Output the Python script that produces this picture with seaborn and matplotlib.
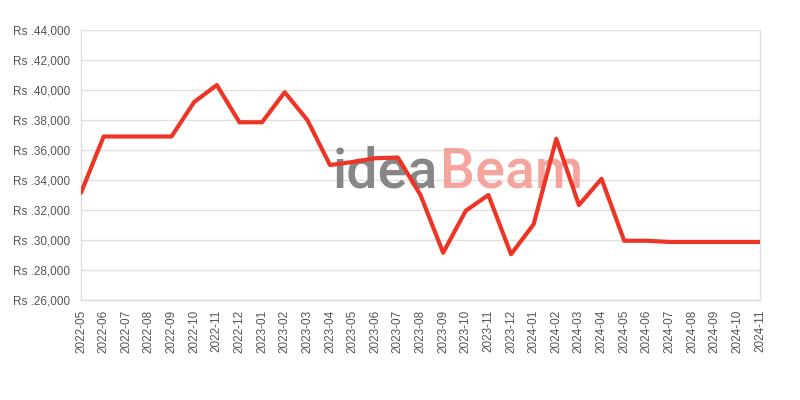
import matplotlib
matplotlib.use("Agg")
import matplotlib.pyplot as plt
import seaborn as sns
import pandas as pd
from matplotlib.ticker import FuncFormatter, MultipleLocator

months = ["2022-05", "2022-06", "2022-07", "2022-08", "2022-09", "2022-10", "2022-11",
          "2022-12", "2023-01", "2023-02", "2023-03", "2023-04", "2023-05", "2023-06",
          "2023-07", "2023-08", "2023-09", "2023-10", "2023-11", "2023-12", "2024-01",
          "2024-02", "2024-03", "2024-04", "2024-05", "2024-06", "2024-07", "2024-08",
          "2024-09", "2024-10", "2024-11"]
prices = [33150, 36900, 36900, 36900, 36900, 39200, 40330,
          37850, 37850, 39850, 38000, 35000, 35200, 35450,
          35500, 33000, 29150, 31950, 33000, 29050, 31050,
          36750, 32330, 34080, 29950, 29950, 29870, 29870,
          29870, 29870, 29870]

df = pd.DataFrame({"month": months, "price": prices})

sns.set_theme(style="white")
plt.rcParams['font.family'] = ['Liberation Sans', 'DejaVu Sans']

fig = plt.figure(figsize=(8, 4), dpi=100)
ax = fig.add_axes([81/800, 1-300/400, (760-81)/800, 270/400])

sns.lineplot(data=df, x="month", y="price", ax=ax, color="#EE3424",
             linewidth=3.0, zorder=3, sort=False)

ax.set_xlim(0, len(months) - 1)
ax.set_ylim(26000, 44000)
ax.yaxis.set_major_locator(MultipleLocator(2000))
ax.yaxis.set_major_formatter(FuncFormatter(lambda v, p: "Rs .{:,.0f}".format(v)))
ax.set_xticks(range(len(months)))
ax.set_xticklabels(months, rotation=90)
ax.tick_params(axis="both", length=0, labelsize=8.5, labelcolor="#555555")
ax.tick_params(axis="y", pad=8)
ax.tick_params(axis="x", pad=7)
ax.set_xlabel("")
ax.set_ylabel("")
ax.grid(axis="y", color="#e0e0e0", linewidth=1)
ax.set_axisbelow(True)
for s in ["left", "bottom", "right"]:
    ax.spines[s].set_color("#dddddd")
    ax.spines[s].set_linewidth(1)
ax.spines["top"].set_visible(False)

# watermark
ax.text(15.78, 33467, "idea", ha="right", va="baseline", fontsize=40,
        family="Roboto", fontweight="medium", color="#7a7a7a", alpha=0.9, zorder=1)
ax.text(15.85, 33467, "Beam", ha="left", va="baseline", fontsize=40,
        family="Roboto", fontweight="medium", color="#f49b94", alpha=0.9, zorder=1)

fig.savefig("out.png", dpi=100)
